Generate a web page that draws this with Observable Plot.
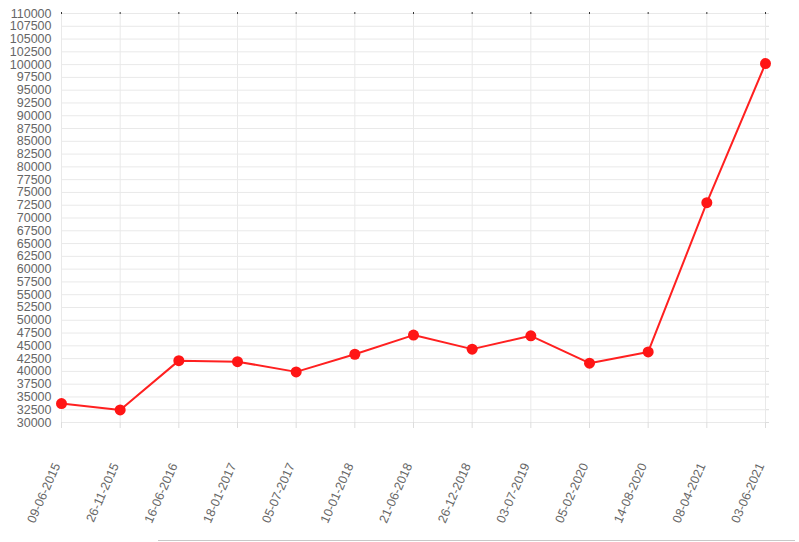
<!DOCTYPE html>
<html><head><meta charset="utf-8">
<script src="https://cdn.jsdelivr.net/npm/d3@7"></script>
<script src="https://cdn.jsdelivr.net/npm/@observablehq/plot@0.6"></script>
<style>
body{margin:0;background:#fff;font-family:"Liberation Sans",Arial,sans-serif}
#c{position:relative;width:799px;height:542px;overflow:hidden}
#bl{position:absolute;left:158px;top:540px;width:637px;height:1px;background:#c8c8c8}
</style>
</head><body><div id="c"></div><script>
const dates = ["09-06-2015","26-11-2015","16-06-2016","18-01-2017","05-07-2017","10-01-2018","21-06-2018","26-12-2018","03-07-2019","05-02-2020","14-08-2020","08-04-2021","03-06-2021"];
const values = [33700,32450,42100,41900,39900,43350,47100,44350,46950,41600,43800,73000,100200];
const yTicks = d3.range(30000, 110001, 2500);
const data = dates.map((d, i) => ({date: d, value: values[i]}));

const chart = Plot.plot({
  width: 799, height: 542,
  marginLeft: 61, marginRight: 34, marginTop: 13, marginBottom: 120,
  style: {fontFamily: "Liberation Sans, Arial, sans-serif", fontSize: "12.5px", color: "#666", background: "#fff"},
  x: {type: "point", domain: dates, range: [61, 765], padding: 0, round: false, label: null},
  y: {domain: [30000, 110000], range: [422, 13], label: null},
  marks: [
    Plot.gridY(yTicks, {stroke: "#e9e9e9", strokeOpacity: 1}),
    Plot.gridX(dates, {stroke: "#e9e9e9", strokeOpacity: 1}),
    Plot.axisY(yTicks, {tickSize: 0, tickPadding: 10, fill: "#666", tickFormat: d => String(d), label: null}),
    Plot.axisY(yTicks, {anchor: "right", tickSize: 3, stroke: "#ddd", tickFormat: () => "", label: null}),
    Plot.axisX(dates, {tickSize: 6, stroke: "#ddd", tickFormat: () => "", label: null}),
    Plot.axisX(dates, {anchor: "top", tickSize: 2, stroke: "#333", tickFormat: () => "", label: null}),
    Plot.text(dates, {x: d => d, frameAnchor: "bottom", dy: 43, dx: -1, rotate: -66, textAnchor: "end", fill: "#666", fontSize: 12.5}),
    Plot.line(data, {x: "date", y: "value", stroke: "#ff2020", strokeWidth: 2}),
    Plot.dot(data, {x: "date", y: "value", r: 5.5, fill: "#ff1515", stroke: "none"})
  ]
});
const c = document.getElementById("c");
c.appendChild(chart);
const bl = document.createElement("div"); bl.id = "bl"; c.appendChild(bl);
</script></body></html>
